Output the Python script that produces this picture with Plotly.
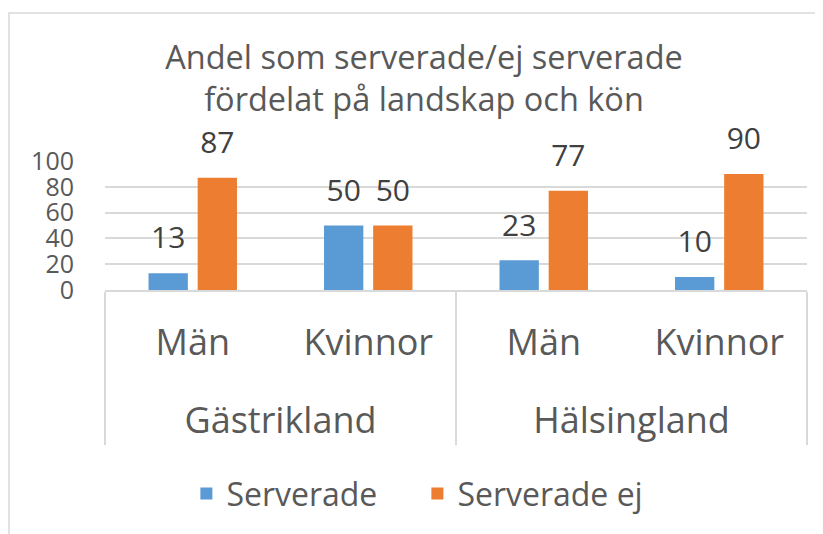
import plotly.graph_objects as go

regions = ["Gästrikland", "Gästrikland", "Hälsingland", "Hälsingland"]
genders = ["Män", "Kvinnor", "Män", "Kvinnor"]
serverade = [13, 50, 23, 10]
serverade_ej = [87, 50, 77, 90]
y_ticks = [0, 20, 40, 60, 80, 100]

FONT = "Open Sans"
TXT = "#595959"
series = [("Serverade", serverade, "#5B9BD5"), ("Serverade ej", serverade_ej, "#ED7D31")]

# group labels sit one line lower than plotly's default, as in the reference
group_labels = ["<br>" + r for r in regions]
xcats = [group_labels, genders]

fig = go.Figure()
for name, vals, col in series:
    fig.add_trace(go.Bar(
        name=name, x=xcats, y=vals,
        marker=dict(color=col, line=dict(width=0)),
    ))
for name, vals, col in series:
    fig.add_trace(go.Scatter(
        x=xcats, y=vals, mode="markers+text",
        text=[str(v) for v in vals], textposition="top center",
        marker=dict(size=26, color="rgba(0,0,0,0)"),
        textfont=dict(family=FONT, size=30, color="#404040"),
        showlegend=False, hoverinfo="skip", cliponaxis=False,
    ))

W, H = 815, 526  # page adds an 8px body margin
fig.update_layout(
    width=W, height=H,
    margin=dict(l=97, r=16, t=153, b=244),
    paper_bgcolor="white", plot_bgcolor="white",
    barmode="group", bargap=0.44, bargroupgap=0.2,
    scattermode="group", scattergap=0.44,
    font=dict(family=FONT, color=TXT),
    title=dict(
        text="Andel som serverade/ej serverade<br>fördelat på landskap och kön",
        font=dict(family=FONT, size=32.5, color=TXT),
        x=416 / W, xanchor="center", xref="container",
        y=1 - 61 / H, yanchor="middle", yref="container",
    ),
    showlegend=True,
    legend=dict(
        orientation="h", x=0.445, xanchor="center", y=-1.58, yanchor="middle",
        font=dict(family=FONT, size=32, color=TXT),
        bgcolor="rgba(0,0,0,0)",
        entrywidth=186, entrywidthmode="pixels",
    ),
    xaxis=dict(
        type="multicategory", automargin=False,
        showline=True, linecolor="#d9d9d9", linewidth=1.5,
        showdividers=True, dividercolor="#d9d9d9", dividerwidth=1.5,
        tickfont=dict(family=FONT, size=36, color=TXT),
        showgrid=False, ticks="", ticklabelstandoff=20,
    ),
    yaxis=dict(
        range=[0, 100], tickvals=y_ticks, ticktext=[str(v) for v in y_ticks],
        automargin=False,
        showgrid=True, gridcolor="#d9d9d9", gridwidth=1.5,
        zeroline=False, showline=False,
        tickfont=dict(family=FONT, size=25, color=TXT),
        ticklabelstandoff=30,
    ),
)

# outer chart-area border
fig.add_shape(type="rect", xref="paper", yref="paper",
              x0=(9 - 105) / 702, x1=1.2, y0=-2.5, y1=(290 - 13) / 129,
              line=dict(color="#d9d9d9", width=1.5), layer="below")

fig.write_html("out.html")
